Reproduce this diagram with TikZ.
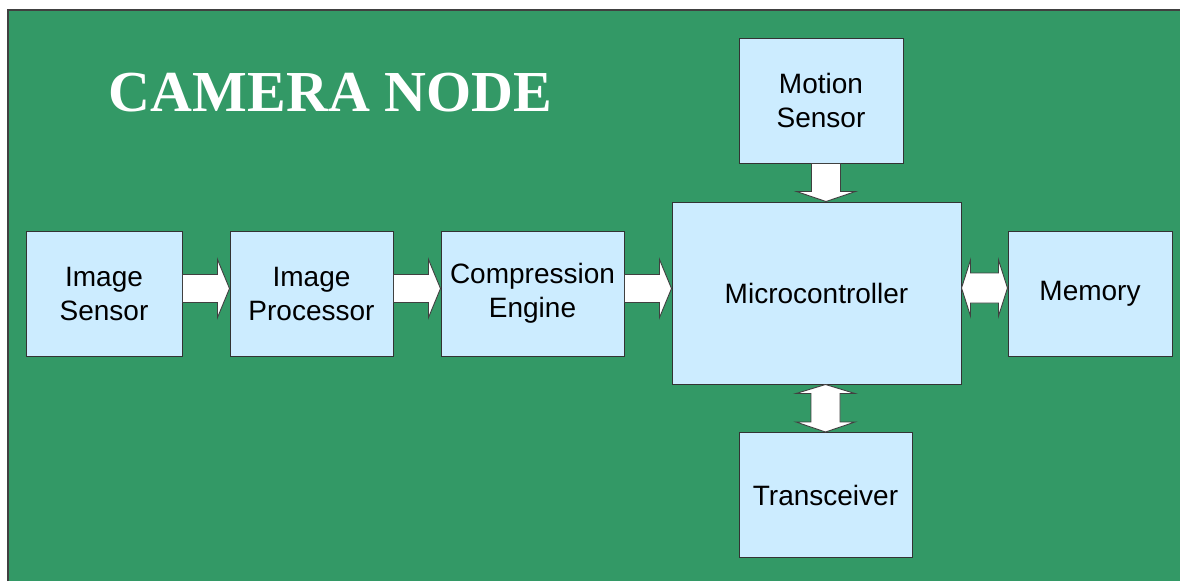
\documentclass[tikz,border=0pt]{standalone}
\usepackage{fontspec}
\setmainfont{Liberation Serif}
\setsansfont{Liberation Sans}
\usetikzlibrary{calc}
\definecolor{bggreen}{RGB}{51,153,102}
\definecolor{boxblue}{RGB}{204,236,255}
\tikzset{
  block/.style={draw=black!80,fill=boxblue,line width=1pt,inner sep=0pt,align=center,
    font=\sffamily\fontsize{28}{34}\selectfont},
  fatarrow/.style={draw=black!75,fill=white,line width=0.9pt},
  % single block arrow, left to right
  harrow/.style={to path={let \p1=(\tikztostart),\p2=(\tikztotarget) in
    (\x1,\y1-14pt) -- (\x2-12pt,\y1-14pt) -- (\x2-12pt,\y1-29pt) -- (\x2,\y1)
    -- (\x2-12pt,\y1+29pt) -- (\x2-12pt,\y1+14pt) -- (\x1,\y1+14pt) -- cycle}},
  % double block arrow, left to right
  hharrow/.style={to path={let \p1=(\tikztostart),\p2=(\tikztotarget) in
    (\x1,\y1) -- (\x1+9pt,\y1-28pt) -- (\x1+9pt,\y1-15pt) -- (\x2-9pt,\y1-15pt)
    -- (\x2-9pt,\y1-28pt) -- (\x2,\y1) -- (\x2-9pt,\y1+28pt) -- (\x2-9pt,\y1+15pt)
    -- (\x1+9pt,\y1+15pt) -- (\x1+9pt,\y1+28pt) -- cycle}},
  % single block arrow, top to bottom
  varrow/.style={to path={let \p1=(\tikztostart),\p2=(\tikztotarget) in
    (\x1-14.5pt,\y1) -- (\x1-14.5pt,\y2+10pt) -- (\x1-29.5pt,\y2+10pt) -- (\x1,\y2)
    -- (\x1+29.5pt,\y2+10pt) -- (\x1+14.5pt,\y2+10pt) -- (\x1+14.5pt,\y1) -- cycle}},
  % double block arrow, top to bottom
  vvarrow/.style={to path={let \p1=(\tikztostart),\p2=(\tikztotarget) in
    (\x1,\y1) -- (\x1-29.5pt,\y1-9pt) -- (\x1-14.5pt,\y1-9pt) -- (\x1-14.5pt,\y2+10pt)
    -- (\x1-29.5pt,\y2+10pt) -- (\x1,\y2) -- (\x1+29.5pt,\y2+10pt) -- (\x1+14.5pt,\y2+10pt)
    -- (\x1+14.5pt,\y1-9pt) -- (\x1+29.5pt,\y1-9pt) -- cycle}}
}
\begin{document}
\begin{tikzpicture}[x=1pt,y=-1pt]
  \useasboundingbox (0,0) rectangle (1180,581);
  \fill[white] (0,0) rectangle (8,581);
  \fill[white] (0,0) rectangle (1180,10);
  \fill[bggreen] (8,10) rectangle (1180,581);
  \draw[black!75,line width=1.5pt] (8,581) -- (8,10) -- (1180,10);

  \node[anchor=base,text=white,font=\bfseries\fontsize{58}{58}\selectfont] (title) at (330.5,111) {CAMERA NODE};

  % blocks
  \node[block,minimum width=156pt,minimum height=125pt] (sensor) at (104,293.5) {Image\\Sensor};
  \node[block,minimum width=163pt,minimum height=125pt] (proc) at (311.5,293.5) {Image\\Processor};
  \node[block,minimum width=183pt,minimum height=125pt] (comp) at (532.5,293.5) {Compression\\Engine};
  \node[block,minimum width=289pt,minimum height=182pt] (micro) at (816.5,293) {Microcontroller};
  \node[block,minimum width=164pt,minimum height=125pt] (memory) at (1090,293.5) {Memory};
  \node[block,minimum width=164pt,minimum height=125pt] (motion) at (821,100.5) {Motion\\Sensor};
  \node[block,minimum width=173pt,minimum height=125pt] (trans) at (825.5,495) {Transceiver};

  % connectors
  \draw[fatarrow] ([yshift=5pt]sensor.east) to[harrow] ([yshift=5pt]proc.west);
  \draw[fatarrow] ([yshift=5pt]proc.east) to[harrow] ([yshift=5pt]comp.west);
  \draw[fatarrow] ([yshift=5pt]comp.east) to[harrow] ([yshift=5pt]comp.east -| micro.west);
  \draw[fatarrow] ([yshift=5pt]micro.east) to[hharrow] ([yshift=5pt]micro.east -| memory.west);
  \draw[fatarrow] ([xshift=5pt]motion.south) to[varrow] ([xshift=5pt]motion.south |- micro.north);
  \draw[fatarrow] (micro.south -| trans.north) to[vvarrow] (trans.north);
\end{tikzpicture}
\end{document}
